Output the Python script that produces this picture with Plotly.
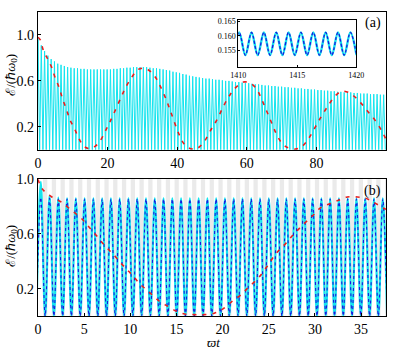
import numpy as np
import plotly.graph_objects as go

# ---- panel (a): fast oscillation, peak heights ----
period_a = 0.946
peak_a = [0.98, 0.91, 0.86, 0.82, 0.79, 0.77, 0.75, 0.74, 0.73, 0.72,
          0.715, 0.71, 0.71, 0.705, 0.705, 0.70, 0.70, 0.70, 0.70, 0.70,
          0.70, 0.70, 0.70, 0.705, 0.705, 0.71, 0.71, 0.715, 0.715, 0.72,
          0.72, 0.72, 0.72, 0.72, 0.715, 0.71, 0.71, 0.705, 0.70, 0.695,
          0.69, 0.68, 0.675, 0.67, 0.66, 0.655, 0.645, 0.64, 0.635, 0.63,
          0.625, 0.62, 0.62, 0.615, 0.61, 0.61, 0.605, 0.60, 0.60, 0.595,
          0.59, 0.59, 0.585, 0.58, 0.58, 0.575, 0.57, 0.57, 0.565, 0.56,
          0.56, 0.555, 0.555, 0.55, 0.55, 0.545, 0.545, 0.54, 0.54, 0.535,
          0.535, 0.53, 0.53, 0.525, 0.525, 0.52, 0.52, 0.515, 0.515, 0.51,
          0.51, 0.505, 0.505, 0.50, 0.50, 0.50, 0.495, 0.495, 0.49, 0.49,
          0.49, 0.485, 0.485, 0.485, 0.48, 0.48]
trough_a = 0.0

red_a_t = [0, 0.6, 1.6, 2.8, 3.9, 4.9, 6.1, 7.0, 8.2, 9.2, 10.4, 11.5, 12.5, 13.7,
           15.0, 16.4, 17.7, 19.3, 20.3, 21.7, 23.9, 25.3, 26.9, 28.8, 30.7, 32.4,
           34.0, 35.2, 36.8, 37.8, 39.2, 40.6, 42.0, 43.9, 45.6, 47.7, 49.6, 51.4,
           53.3, 55.2, 57.1, 59.0, 61.0, 62.8, 64.2, 65.6, 67.0, 68.4, 69.8, 71.7,
           74.0, 75.9, 77.8, 79.7, 81.6, 83.5, 85.4, 87.3, 89.2, 91.1, 93.0, 94.9,
           96.8, 98.7, 100.0]
red_a_v = [0.98, 0.96, 0.86, 0.79, 0.72, 0.63, 0.54, 0.45, 0.35, 0.26, 0.19, 0.115,
           0.058, 0.02, 0.01, 0.03, 0.07, 0.16, 0.22, 0.31, 0.46, 0.55, 0.63, 0.70,
           0.71, 0.68, 0.62, 0.55, 0.44, 0.36, 0.24, 0.13, 0.05, 0.01, 0.01, 0.07,
           0.17, 0.26, 0.38, 0.48, 0.55, 0.59, 0.58, 0.53, 0.445, 0.345, 0.245,
           0.145, 0.07, 0.02, 0.006, 0.03, 0.10, 0.20, 0.30, 0.39, 0.47, 0.51, 0.50,
           0.46, 0.40, 0.33, 0.26, 0.17, 0.09]

# ---- panel (b) ----
period_b = 0.95
t0_b = 0.3
cyan_b = [0.98, 0.88, 0.865, 0.86, 0.86, 0.86, 0.86, 0.86, 0.86, 0.86,
          0.86, 0.86, 0.86, 0.86, 0.86, 0.86, 0.86, 0.86, 0.86, 0.86,
          0.86, 0.86, 0.86, 0.86, 0.86, 0.86, 0.86, 0.86, 0.86, 0.86,
          0.86, 0.86, 0.86, 0.86, 0.86, 0.86, 0.86, 0.86, 0.86, 0.86]
blue_b = [0.866, 0.86, 0.855, 0.855, 0.855, 0.855, 0.855, 0.855, 0.855, 0.855,
          0.855, 0.855, 0.855, 0.855, 0.855, 0.855, 0.855, 0.855, 0.855, 0.855,
          0.855, 0.855, 0.855, 0.855, 0.855, 0.855, 0.855, 0.855, 0.855, 0.855,
          0.855, 0.855, 0.855, 0.855, 0.855, 0.855, 0.855, 0.855, 0.855, 0.855]
trough_b = 0.0

red_b_t = [0, 0.45, 1.5, 2.6, 3.5, 4.6, 5.4, 6.3, 7.3, 8.3, 9.2, 10.2, 11.1, 12.2,
           13.1, 14.1, 15.0, 15.9, 17.0, 18.0, 19.1, 20.0, 20.9, 22.0, 22.8, 23.9,
           24.9, 25.7, 26.7, 27.6, 28.6, 29.7, 30.6, 31.6, 32.7, 33.5, 34.6, 35.5,
           36.4, 37.4, 37.7]
red_b_v = [1.0, 0.93, 0.87, 0.83, 0.78, 0.72, 0.66, 0.59, 0.51, 0.44, 0.37, 0.30,
           0.23, 0.165, 0.11, 0.07, 0.035, 0.015, 0.01, 0.01, 0.02, 0.05, 0.10,
           0.155, 0.21, 0.28, 0.37, 0.45, 0.52, 0.59, 0.66, 0.73, 0.79, 0.82, 0.85,
           0.87, 0.87, 0.86, 0.83, 0.79, 0.78]

# ---- inset ----
period_in = 1.047
t0_in = 1410.08
peak_in = [0.1612, 0.1612, 0.1612, 0.1612, 0.1612, 0.1612, 0.1612, 0.1612, 0.1612, 0.1612]
trough_in = 0.1533


def zigzag(t_first, period, peaks, trough):
    xs, ys = [], []
    for k, p in enumerate(peaks):
        tp = t_first + k * period
        xs += [tp - period / 2, tp]
        ys += [trough, p]
    xs.append(t_first + len(peaks) * period - period / 2)
    ys.append(trough)
    return xs, ys


CYAN = 'rgb(20,228,238)'
BLUE = 'rgb(25,25,225)'
RED = 'rgb(232,30,30)'

fig = go.Figure()

xa, ya = zigzag(0.0, period_a, peak_a, trough_a)
fig.add_trace(go.Scatter(x=xa, y=ya, mode='lines', line=dict(color=CYAN, width=1),
                         xaxis='x', yaxis='y'))
fig.add_trace(go.Scatter(x=red_a_t, y=red_a_v, mode='lines', line_shape='spline',
                         line=dict(color=RED, width=1.6, dash='4px,6px'),
                         xaxis='x', yaxis='y'))

xb, yb = zigzag(t0_b, period_b, cyan_b, trough_b)
fig.add_trace(go.Scatter(x=xb, y=yb, mode='lines', line_shape='spline',
                         line=dict(color=CYAN, width=2.2), xaxis='x2', yaxis='y2'))
xb2, yb2 = zigzag(t0_b, period_b, blue_b, trough_b)
fig.add_trace(go.Scatter(x=xb2, y=yb2, mode='lines', line_shape='spline',
                         line=dict(color=BLUE, width=1.1, dash='3px,3px'),
                         xaxis='x2', yaxis='y2'))
fig.add_trace(go.Scatter(x=red_b_t, y=red_b_v, mode='lines', line_shape='spline',
                         line=dict(color=RED, width=1.6, dash='4px,6px'),
                         xaxis='x2', yaxis='y2'))

xi, yi = zigzag(t0_in, period_in, peak_in, trough_in)
fig.add_trace(go.Scatter(x=xi, y=yi, mode='lines', line_shape='spline',
                         line=dict(color=CYAN, width=2.4), xaxis='x3', yaxis='y3'))
fig.add_trace(go.Scatter(x=xi, y=yi, mode='lines', line_shape='spline',
                         line=dict(color=BLUE, width=1.3, dash='3px,2px'),
                         xaxis='x3', yaxis='y3'))

shapes = []
for k in range(len(cyan_b)):
    c = t0_b + k * period_b + period_b / 2
    shapes.append(dict(type='rect', xref='x2', yref='y2 domain', x0=c - 0.23, x1=c + 0.23,
                       y0=0, y1=1, fillcolor='rgb(234,234,234)', line_width=0, layer='below'))
for k in range(len(peak_in)):
    c = t0_in + k * period_in
    shapes.append(dict(type='rect', xref='x3', yref='y3 domain', x0=c - 0.2, x1=c + 0.2,
                       y0=0, y1=1, fillcolor='rgb(228,228,228)', line_width=0, layer='below'))

ax = dict(showline=True, linecolor='black', linewidth=1.3, mirror=True, ticks='inside',
          ticklen=3, tickcolor='black', showgrid=False, zeroline=False)

ann = dict(xref='paper', yref='paper', showarrow=False, xanchor='center', yanchor='middle')

fig.update_layout(
    width=399, height=352,
    margin=dict(l=38, r=7, t=5, b=36),
    paper_bgcolor='white', plot_bgcolor='white', showlegend=False,
    font=dict(family='Liberation Serif', size=14, color='black'),
    xaxis=dict(ax, domain=[0, 1], range=[0, 100], tickvals=[0, 20, 40, 60, 80], anchor='y'),
    yaxis=dict(ax, domain=[0.5466, 1], range=[0, 1.2], tickvals=[0.2, 0.6, 1.0],
               tickformat='.1f', anchor='x'),
    xaxis2=dict(ax, domain=[0, 1], range=[0, 37.7], tickvals=[0, 5, 10, 15, 20, 25, 30, 35],
                anchor='y2'),
    yaxis2=dict(ax, domain=[0, 0.450], range=[0, 1.0], tickvals=[0.2, 0.6, 1.0],
                tickformat='.1f', anchor='x2'),
    xaxis3=dict(ax, domain=[0.5754, 0.9144], range=[1410, 1420], tickvals=[1410, 1415, 1420],
                anchor='y3', linewidth=1, ticklen=2, tickfont=dict(size=8)),
    yaxis3=dict(ax, domain=[0.8177, 0.9733], range=[0.149, 0.1655],
                tickvals=[0.155, 0.160, 0.165], tickformat='.3f', anchor='x3',
                linewidth=1, ticklen=2, tickfont=dict(size=8)),
    shapes=shapes,
    annotations=[
        dict(ann, text='(a)', x=0.99, y=0.965, xanchor='right', font=dict(size=14)),
        dict(ann, text='(b)', x=0.99, y=0.411, xanchor='right', font=dict(size=14)),
        dict(ann, text='ℰ/(ℏ<i>ω</i><sub>0</sub>)', x=-0.077, y=0.794, textangle=-90,
             font=dict(size=13)),
        dict(ann, text='ℰ/(ℏ<i>ω</i><sub>0</sub>)', x=-0.077, y=0.2315, textangle=-90,
             font=dict(size=13)),
        dict(ann, text='<i>ϖt</i>', x=0.5056, y=-0.0868, font=dict(size=13)),
    ],
)

fig.write_html("out.html", config={'displayModeBar': False},
               post_script="document.body.style.margin='0';")
